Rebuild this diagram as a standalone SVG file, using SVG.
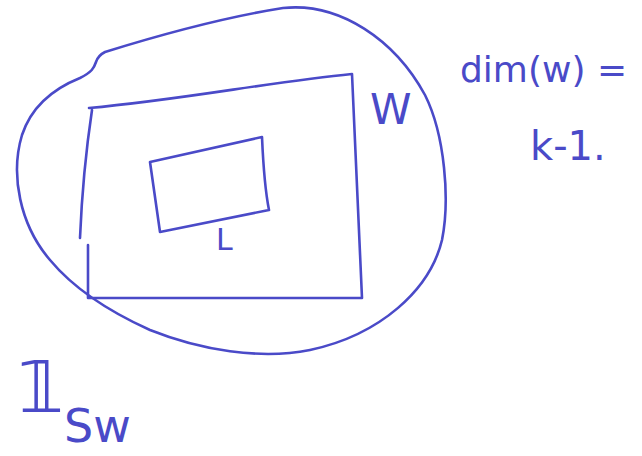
<svg xmlns="http://www.w3.org/2000/svg" width="642" height="456" viewBox="0 0 642 456">
<style>
.s{fill:none;stroke:#4a4ac8;stroke-width:2.6;stroke-linecap:round;stroke-linejoin:round}
.t{fill:#4a4ac8;font-family:"DejaVu Sans","Liberation Sans",sans-serif}
</style>
<rect width="642" height="456" fill="#fff"/>
<g id="blob"><path class="s" d="M105,52 C150,38 220,18 283,8 C340,2 395,40 425,95 C445,135 450,200 442,240 C430,290 380,335 310,350 C260,360 200,350 150,330 C110,312 75,290 50,260 C20,225 10,175 22,135 C32,105 55,88 80,78 C92,72 94,68 96,62 C98,56 101,54 105,52 Z"/></g>
<g id="W"><path class="s" d="M89,108 C180,100 270,82 352,74 L362,298 L88,298 L88,245 M80,238 C82,190 86,150 92,110"/>
<text class="t" x="370" y="124" font-size="42">W</text></g>
<g id="L"><path class="s" d="M150,162 L262,137 C263,160 265,190 269,210 L160,232 Z"/>
<text class="t" x="216" y="250" font-size="30">L</text></g>
<g id="dim"><text class="t" x="460" y="82" font-size="36">dim(w) =</text>
<text class="t" x="530" y="160" font-size="40">k-1.</text></g>
<g id="ind"><text class="t" x="18" y="412" font-size="72">𝟙</text>
<text class="t" x="64" y="442" font-size="46">Sw</text></g>
<g id="connectors"></g>
</svg>
